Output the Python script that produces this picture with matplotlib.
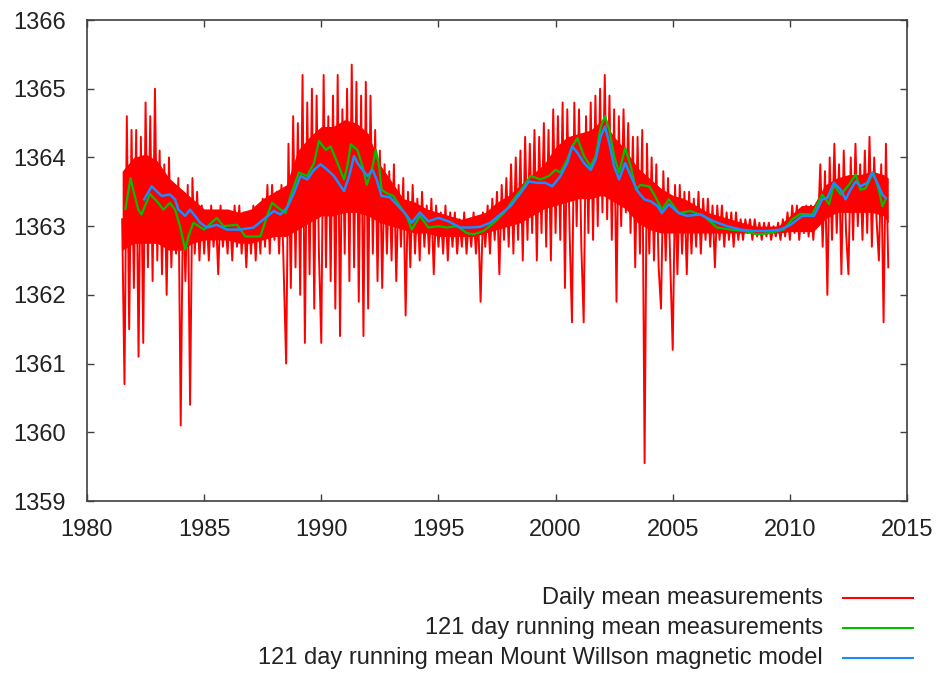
import numpy as np
import matplotlib
matplotlib.use("Agg")
import matplotlib.pyplot as plt
from matplotlib.lines import Line2D

plt.rcParams['font.family'] = ['Liberation Sans', 'DejaVu Sans']

# daily mean measurements, one value every 0.1 yr starting 1981.5 (spikes / scatter)
red_tsi = [
    1363.1, 1360.7, 1364.6, 1361.5, 1364.4,  # 1981.5-1981.9
    1362.1, 1364.4, 1361.1, 1364.3, 1361.3, 1364.8, 1362.4, 1364.6, 1362.2, 1365.0,  # 1982
    1362.5, 1364.1, 1362.3, 1363.9, 1362.0, 1364.0, 1362.4, 1363.6, 1362.6, 1363.7,  # 1983
    1360.1, 1363.5, 1362.2, 1363.6, 1360.4, 1363.7, 1362.6, 1363.5, 1362.5, 1363.3,  # 1984
    1362.6, 1363.2, 1362.5, 1363.3, 1362.7, 1363.2, 1362.3, 1363.3, 1362.7, 1363.1,  # 1985
    1362.6, 1363.2, 1362.5, 1363.3, 1362.7, 1363.3, 1362.6, 1363.2, 1362.4, 1363.2,  # 1986
    1362.6, 1363.3, 1362.5, 1363.2, 1362.6, 1363.4, 1362.7, 1363.6, 1362.6, 1363.6,  # 1987
    1362.8, 1363.5, 1362.6, 1363.6, 1362.3, 1361.0, 1364.2, 1362.1, 1364.6, 1362.4,  # 1988
    1364.5, 1362.0, 1365.2, 1361.3, 1364.8, 1362.3, 1365.0, 1361.8, 1364.9, 1362.6,  # 1989
    1361.3, 1365.2, 1362.4, 1364.6, 1362.2, 1364.9, 1361.8, 1365.2, 1361.4, 1364.7,  # 1990
    1362.6, 1365.0, 1362.2, 1365.35, 1362.4, 1365.1, 1361.9, 1364.9, 1361.4, 1365.1,  # 1991
    1361.8, 1364.9, 1362.6, 1364.4, 1362.2, 1364.1, 1362.1, 1363.9, 1362.6, 1363.8,  # 1992
    1362.5, 1363.9, 1362.2, 1363.6, 1362.7, 1363.7, 1361.7, 1363.5, 1362.4, 1363.6,  # 1993
    1362.6, 1363.4, 1362.5, 1363.5, 1362.7, 1363.3, 1362.6, 1363.4, 1362.3, 1363.3,  # 1994
    1362.7, 1363.2, 1362.6, 1363.3, 1362.5, 1363.2, 1362.7, 1363.2, 1362.6, 1363.1,  # 1995
    1362.7, 1363.2, 1362.6, 1363.1, 1362.7, 1363.2, 1362.6, 1363.1, 1361.9, 1363.2,  # 1996
    1362.7, 1363.3, 1362.6, 1363.4, 1362.8, 1363.5, 1362.3, 1363.6, 1362.8, 1363.7,  # 1997
    1362.7, 1363.9, 1362.6, 1364.0, 1362.8, 1364.1, 1362.5, 1364.3, 1362.8, 1364.2,  # 1998
    1362.9, 1364.4, 1362.5, 1364.3, 1362.9, 1364.5, 1362.7, 1364.4, 1362.5, 1364.7,  # 1999
    1362.9, 1364.6, 1362.8, 1364.8, 1362.1, 1364.7, 1362.9, 1361.6, 1364.8, 1363.0,  # 2000
    1364.7, 1362.7, 1361.6, 1364.6, 1362.9, 1364.8, 1362.8, 1364.9, 1363.0, 1365.0,  # 2001
    1363.2, 1365.2, 1363.1, 1364.9, 1362.8, 1364.7, 1361.9, 1364.6, 1363.0, 1364.7,  # 2002
    1363.2, 1364.5, 1362.9, 1364.3, 1362.4, 1364.3, 1362.6, 1364.4, 1359.55, 1364.2,  # 2003
    1362.6, 1364.0, 1362.5, 1363.9, 1362.4, 1361.8, 1363.8, 1362.5, 1363.7, 1362.4,  # 2004
    1361.2, 1363.6, 1362.3, 1363.6, 1362.6, 1363.5, 1362.3, 1363.5, 1362.6, 1363.4,  # 2005
    1362.7, 1363.5, 1362.6, 1363.4, 1362.8, 1363.4, 1362.7, 1363.3, 1362.4, 1363.3,  # 2006
    1362.8, 1363.3, 1362.7, 1363.2, 1362.8, 1363.2, 1362.7, 1363.2, 1362.8, 1363.1,  # 2007
    1362.8, 1363.1, 1362.9, 1363.1, 1362.8, 1363.1, 1362.85, 1363.05, 1362.8, 1363.05,  # 2008
    1362.85, 1363.05, 1362.8, 1363.0, 1362.85, 1363.05, 1362.8, 1363.1, 1362.85, 1363.2,  # 2009
    1362.8, 1363.3, 1362.9, 1363.3, 1362.8, 1363.25, 1362.9, 1363.3, 1362.85, 1363.3,  # 2010
    1362.8, 1363.3, 1363.0, 1363.9, 1362.7, 1363.8, 1362.0, 1364.0, 1362.8, 1364.2,  # 2011
    1362.9, 1363.9, 1362.3, 1364.1, 1362.9, 1362.3, 1364.0, 1362.8, 1364.2, 1363.0,  # 2012
    1363.9, 1362.8, 1364.1, 1362.9, 1364.3, 1362.7, 1364.0, 1363.1, 1362.5, 1363.9,  # 2013
    1361.6, 1364.2, 1362.4,  # 2014.0-2014.2
]
red_years = 1981.5 + 0.1 * np.arange(len(red_tsi))

# dense part of the daily values (where the red is solid)
core_years = np.append(np.arange(1981.5, 2014.01, 0.5), 2014.2)
core_hi = [1363.8, 1364.0, 1364.05, 1363.95, 1363.7, 1363.55, 1363.4, 1363.25, 1363.25, 1363.25,
           1363.2, 1363.25, 1363.4, 1363.5, 1363.6, 1364.1, 1364.3, 1364.45, 1364.45, 1364.55,
           1364.5, 1364.35, 1363.9, 1363.65, 1363.4, 1363.35, 1363.25, 1363.2, 1363.15, 1363.1,
           1363.15, 1363.2, 1363.35, 1363.45, 1363.6, 1363.75, 1363.9, 1364.15, 1364.3, 1364.35,
           1364.4, 1364.55, 1364.3, 1364.1, 1363.85, 1363.7, 1363.55, 1363.45, 1363.4, 1363.3,
           1363.2, 1363.15, 1363.1, 1363.05, 1363.0, 1363.0, 1363.0, 1363.15, 1363.3, 1363.3,
           1363.6, 1363.7, 1363.75, 1363.75, 1363.8, 1363.75, 1363.7]
core_lo = [1362.65, 1362.75, 1362.75, 1362.75, 1362.65, 1362.65, 1362.75, 1362.8, 1362.8, 1362.8,
           1362.75, 1362.75, 1362.8, 1362.85, 1362.85, 1362.95, 1363.05, 1363.15, 1363.15, 1363.2,
           1363.2, 1363.15, 1363.05, 1363.0, 1362.95, 1362.9, 1362.9, 1362.85, 1362.85, 1362.85,
           1362.85, 1362.9, 1362.95, 1363.0, 1363.05, 1363.15, 1363.25, 1363.3, 1363.35, 1363.4,
           1363.4, 1363.45, 1363.35, 1363.25, 1363.05, 1362.95, 1362.9, 1362.9, 1362.9, 1362.9,
           1362.9, 1362.9, 1362.9, 1362.9, 1362.9, 1362.9, 1362.9, 1362.92, 1362.92, 1362.92,
           1363.1, 1363.2, 1363.2, 1363.2, 1363.2, 1363.15, 1363.05]

# 121 day running mean of the measurements
green_years = [1981.64, 1981.86, 1981.97, 1982.19, 1982.33, 1982.47, 1982.69, 1982.76,
               1983.04, 1983.26, 1983.54, 1983.76, 1983.97, 1984.19, 1984.33, 1984.54,
               1984.76, 1985.0, 1985.54, 1985.83, 1986.4, 1986.76, 1987.4, 1987.69,
               1987.9, 1988.26, 1988.47, 1988.69, 1989.04, 1989.4, 1989.69, 1989.9,
               1990.19, 1990.4, 1990.69, 1990.97, 1991.11, 1991.26, 1991.54, 1991.76,
               1991.94, 1992.19, 1992.33, 1992.47, 1992.57, 1992.79, 1993.07, 1993.36,
               1993.64, 1993.86, 1994.21, 1994.57, 1995.0, 1995.36, 1995.79, 1996.21,
               1996.5, 1996.93, 1997.36, 1997.79, 1998.21, 1998.64, 1998.93, 1999.36,
               1999.71, 2000.0, 2000.21, 2000.5, 2000.71, 2000.93, 2001.21, 2001.5,
               2001.71, 2001.93, 2002.11, 2002.29, 2002.5, 2002.71, 2002.97, 2003.21,
               2003.43, 2003.62, 2004.0, 2004.21, 2004.54, 2004.83, 2005.26, 2005.75,
               2006.32, 2006.89, 2007.46, 2008.03, 2008.6, 2009.17, 2009.74, 2010.1,
               2010.46, 2010.95, 2011.38, 2011.67, 2011.88, 2012.17, 2012.52, 2012.81,
               2013.02, 2013.23, 2013.56, 2013.8, 2013.95, 2014.09]
green_tsi = [1363.25, 1363.70, 1363.53, 1363.24, 1363.17, 1363.29, 1363.47, 1363.44,
             1363.34, 1363.24, 1363.34, 1363.24, 1363.0, 1362.66, 1362.85, 1363.05,
             1363.0, 1362.95, 1363.12, 1363.0, 1363.02, 1362.85, 1362.85, 1363.15,
             1363.34, 1363.24, 1363.19, 1363.44, 1363.78, 1363.73, 1363.92, 1364.24,
             1364.11, 1364.16, 1363.92, 1363.68, 1363.87, 1364.19, 1364.11, 1363.87,
             1363.6, 1363.87, 1364.11, 1363.87, 1363.53, 1363.48, 1363.44, 1363.29,
             1363.15, 1362.95, 1363.15, 1362.98, 1363.0, 1362.98, 1363.0, 1362.9,
             1362.88, 1362.93, 1363.05, 1363.19, 1363.39, 1363.58, 1363.73, 1363.68,
             1363.73, 1363.82, 1363.78, 1363.97, 1364.16, 1364.28, 1364.02, 1363.87,
             1364.02, 1364.45, 1364.60, 1364.41, 1364.02, 1363.78, 1364.14, 1363.87,
             1363.53, 1363.6, 1363.58, 1363.46, 1363.24, 1363.39, 1363.19, 1363.22,
             1363.15, 1362.98, 1362.95, 1362.93, 1362.88, 1362.9, 1362.95, 1363.1,
             1363.18, 1363.17, 1363.46, 1363.32, 1363.6, 1363.46, 1363.6, 1363.75,
             1363.53, 1363.55, 1363.78, 1363.53, 1363.29, 1363.39]

# 121 day running mean of the Mount Wilson magnetic model
blue_years = [1982.44, 1982.76, 1982.97, 1983.19, 1983.54, 1983.76, 1983.9, 1984.19,
              1984.4, 1984.61, 1984.83, 1985.11, 1985.54, 1985.97, 1986.54, 1987.11,
              1987.54, 1987.97, 1988.26, 1988.54, 1988.83, 1989.11, 1989.4, 1989.69,
              1989.97, 1990.26, 1990.54, 1990.97, 1991.19, 1991.4, 1991.54, 1991.76,
              1991.97, 1992.19, 1992.36, 1992.57, 1992.93, 1993.29, 1993.57, 1993.86,
              1994.21, 1994.57, 1995.0, 1995.43, 1995.93, 1996.36, 1996.79, 1997.21,
              1997.64, 1998.07, 1998.5, 1998.86, 1999.21, 1999.57, 1999.86, 2000.21,
              2000.5, 2000.71, 2000.93, 2001.21, 2001.5, 2001.71, 2001.93, 2002.11,
              2002.29, 2002.5, 2002.71, 2002.97, 2003.21, 2003.5, 2003.79, 2004.07,
              2004.36, 2004.54, 2004.83, 2005.26, 2005.61, 2006.18, 2006.75, 2007.32,
              2007.89, 2008.46, 2009.03, 2009.6, 2010.03, 2010.53, 2011.03, 2011.38,
              2011.6, 2011.88, 2012.17, 2012.38, 2012.59, 2012.81, 2013.02, 2013.3,
              2013.51, 2013.73, 2013.95, 2014.09]
blue_tsi = [1363.39, 1363.58, 1363.51, 1363.44, 1363.46, 1363.39, 1363.24, 1363.15,
            1363.24, 1363.15, 1363.05, 1362.98, 1363.02, 1362.95, 1362.95, 1362.98,
            1363.1, 1363.22, 1363.17, 1363.27, 1363.48, 1363.73, 1363.68, 1363.82,
            1363.9, 1363.82, 1363.73, 1363.51, 1363.73, 1364.02, 1363.92, 1363.82,
            1363.73, 1363.82, 1363.68, 1363.44, 1363.42, 1363.29, 1363.19, 1363.05,
            1363.2, 1363.07, 1363.12, 1363.07, 1362.98, 1362.98, 1362.99, 1363.05,
            1363.17, 1363.29, 1363.48, 1363.65, 1363.63, 1363.63, 1363.58, 1363.73,
            1363.92, 1364.16, 1364.07, 1363.92, 1363.82, 1363.97, 1364.31, 1364.45,
            1364.21, 1363.87, 1363.68, 1363.92, 1363.73, 1363.51, 1363.39, 1363.36,
            1363.29, 1363.19, 1363.32, 1363.19, 1363.15, 1363.17, 1363.07, 1363.0,
            1362.95, 1362.93, 1362.93, 1362.95, 1363.02, 1363.15, 1363.15, 1363.39,
            1363.41, 1363.63, 1363.53, 1363.39, 1363.53, 1363.65, 1363.58, 1363.63,
            1363.78, 1363.63, 1363.46, 1363.41]

labels = ["Daily mean measurements",
          "121 day running mean measurements",
          "121 day running mean Mount Willson magnetic model"]
colors = ["#ff0000", "#00c000", "#1a8cff"]

W, H = 938, 673
fig = plt.figure(figsize=(W / 100, H / 100), dpi=100)
ax = fig.add_axes([87 / W, 1 - 501 / H, 820 / W, 481 / H])

ax.fill_between(core_years, core_lo, core_hi, color=colors[0], lw=0)
ax.plot(red_years, red_tsi, color=colors[0], lw=1.4)
ax.plot(green_years, green_tsi, color=colors[1], lw=1.6)
ax.plot(blue_years, blue_tsi, color=colors[2], lw=1.8)

ax.set_xlim(1980, 2015)
ax.set_ylim(1359, 1366)
ax.set_xticks(range(1980, 2016, 5))
ax.set_yticks(range(1359, 1367))
ax.tick_params(direction='in', length=5, width=1, color='#404040',
               top=True, right=True, labelsize=17, labelcolor='#222222')
ax.tick_params(axis='x', pad=13)
ax.tick_params(axis='y', pad=15)
for s in ax.spines.values():
    s.set_color('#404040')
    s.set_linewidth(1.2)

# legend below the plot, text right aligned, sample line on the right
for i, (lab, c) in enumerate(zip(labels, colors)):
    yp = 598 + 30 * i
    fig.text(823 / W, 1 - yp / H, lab, ha='right', va='center',
             fontsize=17, color='#222222')
    fig.add_artist(Line2D([843 / W, 913 / W], [1 - yp / H, 1 - yp / H],
                          color=c, lw=1.5, transform=fig.transFigure))

fig.savefig("out.png", dpi=100)
